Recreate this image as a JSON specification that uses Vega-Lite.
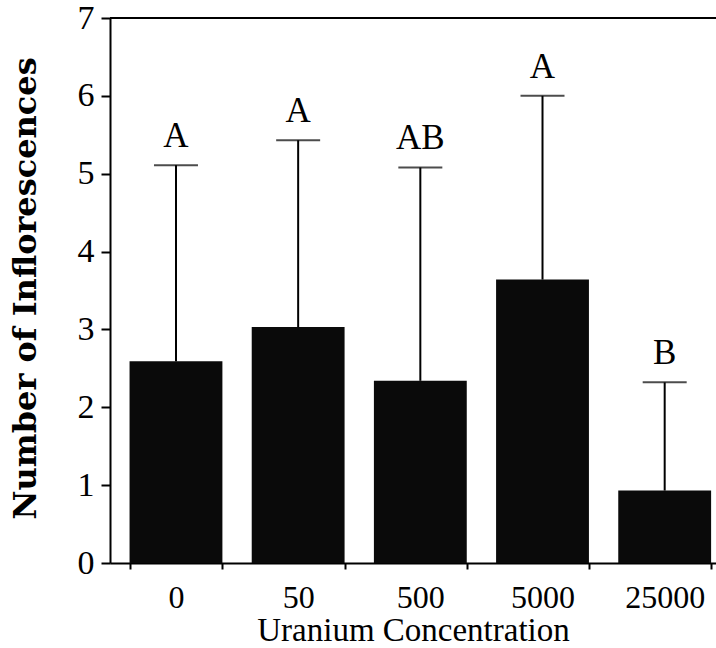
{
  "$schema": "https://vega.github.io/schema/vega-lite/v6.json",
  "width": 606,
  "height": 545,
  "autosize": {"type": "none"},
  "padding": {"left": 110, "top": 18, "right": 0, "bottom": 85},
  "background": "white",
  "config": {"view": {"stroke": null}},
  "data": {"values": [
    {"conc": "0", "mean": 2.59, "upper": 5.11, "letter": "A"},
    {"conc": "50", "mean": 3.03, "upper": 5.43, "letter": "A"},
    {"conc": "500", "mean": 2.34, "upper": 5.08, "letter": "AB"},
    {"conc": "5000", "mean": 3.64, "upper": 6.0, "letter": "A"},
    {"conc": "25000", "mean": 0.93, "upper": 2.32, "letter": "B"}
  ]},
  "encoding": {
    "x": {
      "field": "conc", "type": "nominal", "sort": null,
      "scale": {"paddingInner": 0.24, "paddingOuter": 0.1, "align": 0.8},
      "axis": {
        "title": "Uranium Concentration",
        "labelAngle": 0,
        "labelFont": "Liberation Serif", "labelFontSize": 32, "labelColor": "black",
        "labelPadding": 13,
        "titleFont": "Liberation Serif", "titleFontSize": 33, "titleFontWeight": "normal", "titleColor": "black",
        "titlePadding": 1,
        "domainColor": "black", "domainWidth": 2,
        "tickColor": "black", "tickWidth": 2, "tickSize": 6,
        "tickBand": "extent"
      }
    }
  },
  "layer": [
    {
      "mark": {"type": "bar", "color": "#0a0a0a"},
      "encoding": {
        "y": {
          "field": "mean", "type": "quantitative",
          "scale": {"domain": [0, 7], "nice": false},
          "axis": {
            "title": "Number of Inflorescences",
            "values": [0, 0.5, 1, 1.5, 2, 2.5, 3, 3.5, 4, 4.5, 5, 5.5, 6, 6.5, 7],
            "labelExpr": "datum.value % 1 == 0 ? format(datum.value, 'd') : ''",
            "grid": false,
            "labelFont": "Liberation Serif", "labelFontSize": 34, "labelColor": "black",
            "labelPadding": 7,
            "titleFont": "DejaVu Serif", "titleFontSize": 32, "titleFontWeight": "bold", "titleColor": "black",
            "titleX": -85, "titleY": 270, "titleAngle": -90, "titleBaseline": "middle", "titleAlign": "center",
            "domainColor": "black", "domainWidth": 2,
            "tickColor": "black", "tickWidth": 2, "tickSize": 9
          }
        }
      }
    },
    {
      "mark": {"type": "rule", "color": "black", "strokeWidth": 2},
      "encoding": {
        "y": {"field": "mean", "type": "quantitative"},
        "y2": {"field": "upper"}
      }
    },
    {
      "mark": {"type": "tick", "color": "black", "thickness": 2, "size": 44, "orient": "horizontal"},
      "encoding": {
        "y": {"field": "upper", "type": "quantitative"}
      }
    },
    {
      "mark": {"type": "text", "font": "Liberation Serif", "fontSize": 35, "color": "black", "baseline": "alphabetic", "dy": -18},
      "encoding": {
        "y": {"field": "upper", "type": "quantitative"},
        "text": {"field": "letter"}
      }
    },
    {
      "data": {"values": [{"top": 7}]},
      "mark": {"type": "rule", "color": "black", "strokeWidth": 2},
      "encoding": {
        "y": {"field": "top", "type": "quantitative"},
        "x": {"value": 0},
        "x2": {"value": 606}
      }
    }
  ]
}
